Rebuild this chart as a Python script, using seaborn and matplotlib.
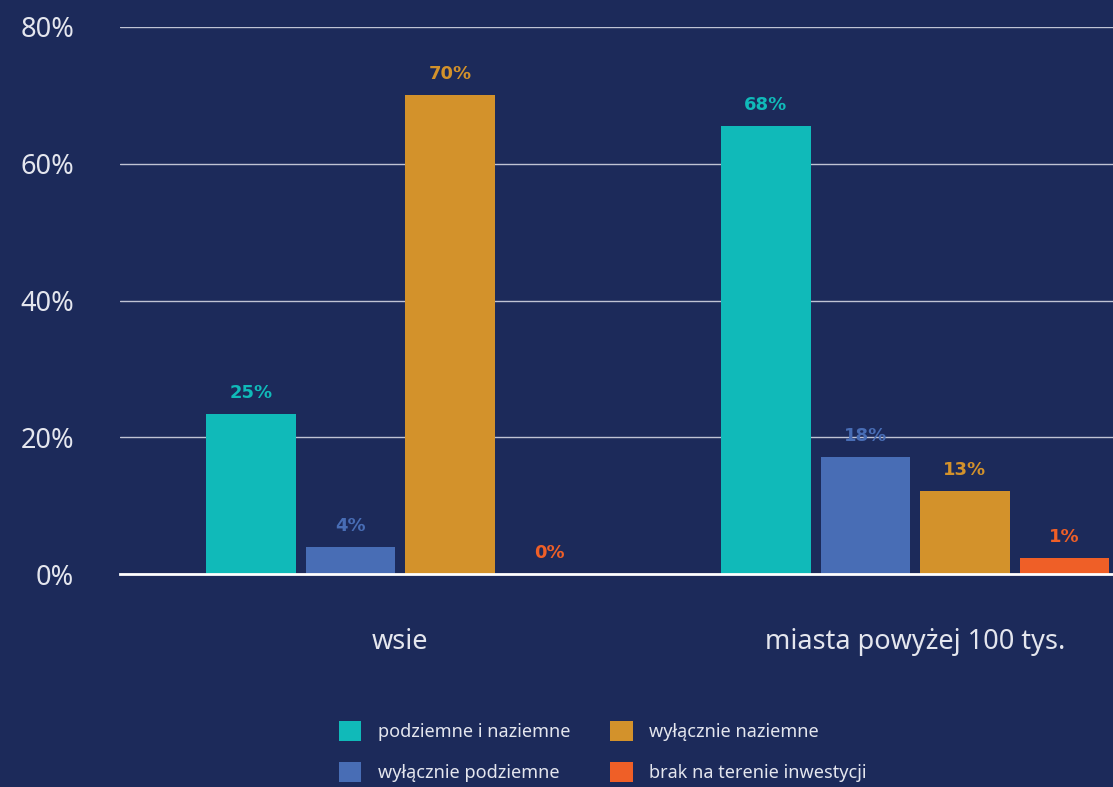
import seaborn as sns
import matplotlib.pyplot as plt
import pandas as pd

# data
places = ["wsie", "miasta powyżej 100 tys."]
kinds = ["podziemne i naziemne", "wyłącznie podziemne", "wyłącznie naziemne", "brak na terenie inwestycji"]
heights_wsie = [23.4, 3.9, 70.0, 0.0]
heights_miasta = [65.5, 17.1, 12.1, 2.3]
labels_wsie = ["25%", "4%", "70%", "0%"]
labels_miasta = ["68%", "18%", "13%", "1%"]
colors = ["#10bab9", "#486db5", "#d3922b", "#ef5f27"]

bg = "#1c2a5a"
txt = "#e4e6ee"

df = pd.DataFrame({
    "place": [places[0]] * 4 + [places[1]] * 4,
    "kind": kinds + kinds,
    "share": heights_wsie + heights_miasta,
})

sns.set_style("dark")
plt.rcParams["font.family"] = ["Noto Sans", "DejaVu Sans"]

fig = plt.figure(figsize=(11.13, 7.87), dpi=100, facecolor=bg)
ax = fig.add_axes([0.1078, 0.2706, 0.8922, 0.6951])
ax.set_facecolor(bg)

sns.barplot(data=df, x="place", y="share", hue="kind", hue_order=kinds,
            palette=colors, order=places, width=0.773, gap=0.1,
            saturation=1, linewidth=0, ax=ax, legend=True)

for i, cont in enumerate(ax.containers):
    ax.bar_label(cont, labels=[labels_wsie[i], labels_miasta[i]], padding=9,
                 color=colors[i], fontsize=13, fontweight="bold",
                 family=["DejaVu Sans"])

ax.set_ylim(0, 80)
ax.set_xlim(-0.544, 1.384)
ax.set_yticks([0, 20, 40, 60, 80])
ax.set_yticklabels(["0%", "20%", "40%", "60%", "80%"])
ax.tick_params(axis="y", length=0, pad=33, labelsize=19.5, labelcolor=txt)
ax.tick_params(axis="x", length=0, pad=39, labelsize=19.5, labelcolor=txt)
for lab in ax.get_xticklabels() + ax.get_yticklabels():
    lab.set_fontweight("light")
ax.grid(axis="y", color="#bfc3d4", linewidth=1)
ax.grid(axis="x", visible=False)
ax.set_axisbelow(True)
for s in ["top", "right", "left"]:
    ax.spines[s].set_visible(False)
ax.spines["bottom"].set_color("white")
ax.spines["bottom"].set_linewidth(2)
ax.spines["bottom"].set_zorder(5)
ax.set_xlabel("")
ax.set_ylabel("")

leg = ax.legend(loc="center", bbox_to_anchor=(0.486, -0.325), ncol=2, frameon=False,
                fontsize=13, handlelength=1.25, handleheight=1.35, handletextpad=0.9,
                columnspacing=2.2, labelspacing=1.15)
for t in leg.get_texts():
    t.set_color(txt)

fig.savefig("out.png", dpi=100, facecolor=bg)
